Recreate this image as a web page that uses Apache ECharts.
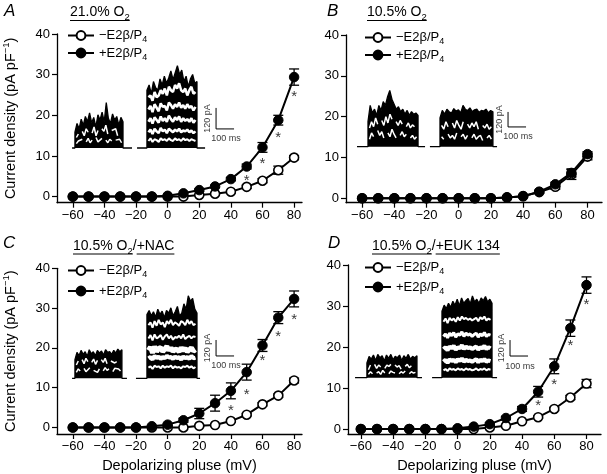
<!DOCTYPE html>
<html><head><meta charset="utf-8">
<script src="https://cdn.jsdelivr.net/npm/echarts@6/dist/echarts.min.js"></script>
<style>html,body{margin:0;padding:0;background:#fff}#c{width:607px;height:474px}</style>
</head><body><div id="c"></div>
<script>
// ---------------- data ----------------
const voltages = [-60,-50,-40,-30,-20,-10,0,10,20,30,40,50,60,70,80];
const xTicks = [-60,-40,-20,0,20,40,60,80];
const yTicks = [0,10,20,30,40];
const seriesNames = ['−E2β/P4','+E2β/P4'];

const A_minus    = [0,0,0,0,0,0,0,0,0.4,0.7,1.2,2.4,3.9,6.5,9.6];
const A_minusErr = [0,0,0,0,0,0,0,0,0,0.2,0.3,0.4,0.5,1.0,0.5];
const A_plus     = [0,0,0,0,0,0,0.2,0.8,1.6,2.5,4.3,7.4,12.1,18.8,29.4];
const A_plusErr  = [0,0,0,0,0,0,0,0,0.3,0.3,0.4,0.6,1.2,1.2,2.0];
const A_stars    = [[50,4.7],[60,8.9],[70,15.3],[80,25.2]];

const B_minus    = [0,0,0,0,0,0,0,0,0,0.2,0.5,1.5,2.8,5.8,10.2];
const B_minusErr = [0,0,0,0,0,0,0,0,0,0,0.2,0.3,0.6,1.2,0.8];
const B_plus     = [0,0,0,0,0,0,0,0,0,0.2,0.5,1.6,3.4,6.2,10.8];
const B_plusErr  = [0,0,0,0,0,0,0,0,0,0,0.2,0.3,0.5,1.0,0.6];
const B_stars    = [];

const C_minus    = [0,0,0,0,0,0,0,0,0.4,0.6,1.6,3.2,5.8,8.0,11.8];
const C_minusErr = [0,0,0,0,0,0,0,0,0.2,0.2,0.3,0.3,0.4,0.4,0.6];
const C_plus     = [0,0,0,0,0,0.3,0.7,1.8,3.5,6.1,9.2,13.9,20.6,27.6,32.3];
const C_plusErr  = [0,0,0,0,0,0,0.3,0.5,1.3,2.0,2.0,2.0,1.5,1.5,2.0];
const C_stars    = [[40,4.9],[50,9.0],[60,17.6],[70,23.6],[80,27.7]];

const D_minus    = [0,0,0,0,0,0,0,0,0.4,0.8,1.9,2.9,4.9,7.7,11.1];
const D_minusErr = [0,0,0,0,0,0,0,0,0,0.2,0.3,0.3,0.4,0.5,1.0];
const D_plus     = [0,0,0,0,0,0,0.2,0.6,1.2,2.7,4.9,9.1,15.3,24.6,35.1];
const D_plusErr  = [0,0,0,0,0,0,0,0,0.3,0.4,0.6,1.3,1.8,2.0,2.0];
const D_stars    = [[50,6.4],[60,11.5],[70,20.9],[80,31.0]];

// inset current traces (pA); first array = outer envelope, others = white gaps between traces
// time marks (ms): [baseline start, pulse on, pulse off, baseline end]
const A_leftTime  = [67, 83, 350, 400];
const A_leftTraces = [
  [90,140,110,165,130,180,150,200,145,175,120,190,160,205,150,260,170,140,195,160,180,130,175,150],
  [60,80,null,95,70,110,90,null,85,120,70,100,null,110,95,130,80,null,100,90,110,70,null,85],
  [25,40,30,50,null,35,55,30,45,null,60,35,40,55,null,45,30,50,40,null,45,35,50,30]];
const A_rightTime = [428, 483, 761, 806];
const A_rightTraces = [
  [330,360,310,380,345,330,395,360,410,370,400,440,390,430,470,420,445,380,410,350,395,420,370,380],
  [290,300,270,320,290,300,330,310,340,300,350,330,320,360,340,370,330,320,340,300,330,350,310,320],
  [220,240,205,250,230,210,255,235,240,215,260,245,225,250,235,260,230,245,225,250,230,240,215,235],
  [150,170,140,175,160,145,180,155,170,150,185,165,150,175,160,180,150,170,155,165,150,170,145,160],
  [90,105,80,110,95,85,115,95,105,85,110,100,90,105,95,110,90,100,95,105,90,100,85,95],
  [40,55,35,50,45,35,55,45,50,40,55,45,40,55,45,50,40,55,45,50,40,50,45,40]];

const B_leftTime  = [39, 100, 378, 417];
const B_leftTraces = [
  [200,330,270,300,250,330,290,360,330,400,450,380,340,300,320,280,300,260,290,250,280,260,270,250],
  [150,200,160,230,180,null,210,170,240,190,260,220,null,200,170,210,180,null,160,190,150,175,160,null],
  [60,110,80,null,130,90,120,70,null,110,80,140,100,70,null,90,120,80,100,null,70,90,60,80]];
const B_rightTime = [444, 500, 794, 817];
const B_rightTraces = [
  [230,290,260,300,280,270,305,285,295,270,330,300,290,310,280,295,300,275,290,285,300,270,290,280],
  [170,140,200,160,null,190,150,210,170,140,200,null,180,150,190,160,200,140,null,170,150,180,140,160],
  [80,60,null,100,70,90,60,110,null,80,100,60,90,null,70,100,60,80,90,50,null,70,90,60]];

const C_leftTime  = [67, 83, 344, 372];
const C_leftTraces = [
  [140,195,170,210,180,200,165,215,185,200,170,210,190,205,175,215,195,200,180,210,190,220,200,215],
  [100,130,null,140,110,150,125,null,120,145,105,135,null,140,120,150,110,null,130,140,115,125,null,130],
  [45,70,55,null,75,50,65,80,null,60,75,45,70,null,55,80,60,70,null,50,75,60,70,55]];
const C_rightTime = [422, 483, 761, 778];
const C_rightTraces = [
  [480,510,470,500,460,520,480,505,455,510,490,530,470,500,540,470,490,560,520,620,580,600,520,490],
  [400,420,380,430,395,440,405,420,385,430,410,440,400,420,410,395,430,420,400,440,410,430,400,410],
  [300,325,285,330,300,310,325,290,315,330,300,320,290,310,305,320,300,330,295,310,320,300,315,310],
  [210,235,190,240,200,225,230,200,220,240,210,230,200,220,215,200,230,210,225,200,215,230,205,215],
  [150,160,140,170,150,165,145,160,150,170,155,160,145,165,150,160,140,165,150,160,145,170,150,155],
  [80,90,70,95,85,90,75,95,80,90,85,95,75,90,80,85,75,90,85,95,80,90,75,85]];

const D_leftTime  = [28, 94, 372, 400];
const D_leftTraces = [
  [110,160,140,170,130,175,150,165,125,170,145,175,135,160,150,170,130,165,145,175,140,160,150,165],
  [60,95,null,100,70,95,80,null,70,95,85,100,null,95,80,90,65,null,85,100,75,90,null,85],
  [25,45,30,null,35,45,25,55,35,null,30,50,40,35,null,30,45,35,50,null,30,45,35,40]];
const D_rightTime = [456, 511, 789, 817];
const D_rightTraces = [
  [500,545,520,560,530,575,545,590,540,600,560,580,595,555,615,570,590,560,600,580,610,570,590,560],
  [420,445,410,450,430,445,420,455,430,460,440,450,435,445,430,440,450,425,455,440,460,430,445,435],
  [310,330,300,335,315,340,305,330,320,345,310,335,320,330,310,325,335,305,330,315,340,310,325,320],
  [215,230,205,235,220,240,210,230,220,245,215,235,220,230,215,225,235,210,230,220,240,215,230,220],
  [120,135,110,140,125,135,115,140,125,145,120,135,125,130,120,130,140,115,135,125,140,120,130,125],
  [55,65,50,70,60,65,55,70,60,65,55,70,60,65,55,60,70,55,65,60,70,55,65,60]];

// scale bars: corner [x (ms), y (pA)]
const A_scaleBar = [867, 109];
const B_scaleBar = [878, 158];
const C_scaleBar = [867, 168];
const D_scaleBar = [889, 163];
const scaleBarSize = [100, 120]; // ms, pA

// ---------------- layout ----------------
const FF = 'Liberation Sans, Arial, Helvetica, sans-serif';
const panels = [
  {minus:A_minus, minusErr:A_minusErr, plus:A_plus, plusErr:A_plusErr, stars:A_stars,
   grid:{left:52, top:34, width:250, height:168.7}, xmin:-70, xmax:85, ymin:-1.5,
   yName:true, xName:false, legend:{left:62, top:24, gap:2},
   inset:{left:60, baseY:148, sy:0.175, lt:A_leftTime, ltr:A_leftTraces, rt:A_rightTime, rtr:A_rightTraces,
          lgw:[1.5,1.5], rgw:[2.5,2.5,2.5,2.5,2], sb:A_scaleBar}},
  {minus:B_minus, minusErr:B_minusErr, plus:B_plus, plusErr:B_plusErr, stars:B_stars,
   grid:{left:346, top:35, width:256, height:167.7}, xmin:-70, xmax:89, ymin:-1.1,
   yName:false, xName:false, legend:{left:359, top:26, gap:2},
   inset:{left:350, baseY:146.7, sy:0.125, lt:B_leftTime, ltr:B_leftTraces, rt:B_rightTime, rtr:B_rightTraces,
          lgw:[1.5,1.5], rgw:[1.5,1.5], sb:B_scaleBar}},
  {minus:C_minus, minusErr:C_minusErr, plus:C_plus, plusErr:C_plusErr, stars:C_stars,
   grid:{left:52, top:268.3, width:250, height:168.4}, xmin:-70, xmax:85, ymin:-1.65,
   yName:true, xName:true, legend:{left:62, top:259, gap:5},
   inset:{left:60, baseY:378.3, sy:0.133, lt:C_leftTime, ltr:C_leftTraces, rt:C_rightTime, rtr:C_rightTraces,
          lgw:[1.5,1.5], rgw:[2,2,5,4,2], sb:C_scaleBar}},
  {minus:D_minus, minusErr:D_minusErr, plus:D_plus, plusErr:D_plusErr, stars:D_stars,
   grid:{left:348, top:265, width:253, height:170}, xmin:-68, xmax:89, ymin:-1.2,
   yName:false, xName:true, legend:{left:359, top:256, gap:4},
   inset:{left:350, baseY:377.7, sy:0.133, lt:D_leftTime, ltr:D_leftTraces, rt:D_rightTime, rtr:D_rightTraces,
          lgw:[1.5,1.5], rgw:[2,3,4,4,2], sb:D_scaleBar}}
];

const grids=[], xAxes=[], yAxes=[], series=[], legends=[];
const minusFmt = v => String(v).replace('-', '−');
const richSub = {
  a:{fontSize:13, fontFamily:FF, color:'#000', lineHeight:18},
  s:{fontSize:9, fontFamily:FF, color:'#000', verticalAlign:'bottom', lineHeight:18}
};

panels.forEach((p, pi) => {
  const gi = grids.length;
  grids.push(Object.assign({containLabel:false}, p.grid));
  xAxes.push({type:'value', gridIndex:gi, min:p.xmin, max:p.xmax,
    axisLine:{show:true, onZero:false, lineStyle:{color:'#000', width:1.3}},
    axisTick:{show:true, length:5, lineStyle:{color:'#000', width:1.2}, customValues:xTicks},
    axisLabel:{color:'#000', fontSize:13, fontFamily:FF, margin:6, customValues:xTicks, formatter:minusFmt},
    splitLine:{show:false},
    name: p.xName ? 'Depolarizing pluse (mV)' : '', nameLocation:'middle', nameGap:24,
    nameTextStyle:{color:'#000', fontSize:14.5, fontFamily:FF}});
  yAxes.push({type:'value', gridIndex:gi, min:p.ymin, max:40,
    axisLine:{show:true, onZero:false, lineStyle:{color:'#000', width:1.3}},
    axisTick:{show:true, length:5, lineStyle:{color:'#000', width:1.2}, customValues:yTicks},
    axisLabel:{color:'#000', fontSize:13, fontFamily:FF, margin:7, customValues:yTicks},
    splitLine:{show:false},
    name: p.yName ? '{a|Current density (pA pF}{sup|−1}{a|)}' : '', nameLocation:'middle', nameGap:36,
    nameRotate:90,
    nameTextStyle:{color:'#000', fontFamily:FF,
      rich:{a:{fontSize:14.5, fontFamily:FF, color:'#000', lineHeight:20},
            sup:{fontSize:9.5, fontFamily:FF, color:'#000', verticalAlign:'top', lineHeight:20}}}});

  const errData = (vals, errs) => voltages.map((v,i)=>[v, vals[i], errs[i]]).filter(d=>d[2]>0);
  const errRender = (params, api) => {
    const x = api.value(0), y = api.value(1), e = api.value(2);
    const t = api.coord([x, y+e]), b = api.coord([x, y-e]);
    const hw = 5, st = {stroke:'#000', lineWidth:1.3};
    return {type:'group', children:[
      {type:'line', shape:{x1:t[0], y1:t[1], x2:b[0], y2:b[1]}, style:st},
      {type:'line', shape:{x1:t[0]-hw, y1:t[1], x2:t[0]+hw, y2:t[1]}, style:st},
      {type:'line', shape:{x1:b[0]-hw, y1:b[1], x2:b[0]+hw, y2:b[1]}, style:st}]};
  };
  series.push({type:'custom', xAxisIndex:gi, yAxisIndex:gi, renderItem:errRender,
    data:errData(p.minus, p.minusErr), z:3, silent:true});
  series.push({type:'custom', xAxisIndex:gi, yAxisIndex:gi, renderItem:errRender,
    data:errData(p.plus, p.plusErr), z:3, silent:true});

  series.push({type:'line', name:seriesNames[0], xAxisIndex:gi, yAxisIndex:gi,
    data:voltages.map((v,i)=>[v, p.minus[i]]), symbol:'circle', symbolSize:9,
    lineStyle:{color:'#000', width:2}, itemStyle:{color:'#fff', borderColor:'#000', borderWidth:1.6},
    z:4, animation:false});
  series.push({type:'line', name:seriesNames[1], xAxisIndex:gi, yAxisIndex:gi,
    data:voltages.map((v,i)=>[v, p.plus[i]]), symbol:'circle', symbolSize:9.5,
    lineStyle:{color:'#000', width:2}, itemStyle:{color:'#000', borderColor:'#000', borderWidth:1},
    z:5, animation:false});
  if (p.stars.length) {
    series.push({type:'scatter', xAxisIndex:gi, yAxisIndex:gi, data:p.stars, symbolSize:1,
      itemStyle:{color:'rgba(0,0,0,0)'},
      label:{show:true, formatter:'*', position:'inside', offset:[0,3], color:'#000', fontSize:15, fontFamily:FF},
      z:6, silent:true});
  }

  legends.push({data:seriesNames, orient:'vertical', left:p.legend.left, top:p.legend.top,
    itemWidth:26, itemHeight:11, itemGap:p.legend.gap, selectedMode:false,
    formatter: n => '{a|' + n.slice(0, -1) + '}{s|' + n.slice(-1) + '}',
    textStyle:{color:'#000', fontSize:13, fontFamily:FF, rich:richSub}});

  // inset grid (current traces)
  const ins = p.inset;
  const ig = grids.length;
  grids.push({left:ins.left, width:180, top:ins.baseY - 700*ins.sy, height:750*ins.sy, containLabel:false});
  xAxes.push({type:'value', gridIndex:ig, min:0, max:1000, show:false});
  yAxes.push({type:'value', gridIndex:ig, min:-50, max:700, show:false});
  const cluster = (time, traces, gw) => {
    const [b0, p0, p1, b1] = time;
    const n = traces[0].length;
    const ts = i => p0 + (p1 - p0) * i / (n - 1);
    const env = [[b0,0],[p0,0]].concat(traces[0].map((v,i)=>[ts(i), v])).concat([[p1,0],[b1,0]]);
    series.push({type:'line', xAxisIndex:ig, yAxisIndex:ig, data:env, symbol:'none',
      lineStyle:{color:'#000', width:1.3}, areaStyle:{color:'#000', opacity:1}, z:2, silent:true, animation:false});
    const d = (p1 - p0) * 0.03;
    traces.slice(1).forEach((tr, k) => {
      const tg = i => p0 + d + (p1 - p0 - 2*d) * i / (n - 1);
      series.push({type:'line', xAxisIndex:ig, yAxisIndex:ig, data:tr.map((v,i)=>[tg(i), v]), symbol:'none',
        connectNulls:false, lineStyle:{color:'#fff', width:gw[k] || 1.5}, z:2, silent:true, animation:false});
    });
  };
  cluster(ins.lt, ins.ltr, ins.lgw);
  cluster(ins.rt, ins.rtr, ins.rgw);
  const [sx, sy0] = ins.sb;
  series.push({type:'line', xAxisIndex:ig, yAxisIndex:ig, symbol:'none',
    data:[[sx, sy0 + scaleBarSize[1]], [sx, sy0], [sx + scaleBarSize[0], sy0]],
    lineStyle:{color:'#000', width:1}, z:2, silent:true, animation:false});
  series.push({type:'scatter', xAxisIndex:ig, yAxisIndex:ig, symbolSize:1, itemStyle:{color:'rgba(0,0,0,0)'},
    data:[{value:[sx - 25, sy0 + scaleBarSize[1]/2],
           label:{show:true, formatter:'120 pA', position:'inside', rotate:90, align:'center', verticalAlign:'bottom'}},
          {value:[sx + scaleBarSize[0]*0.55, sy0],
           label:{show:true, formatter:'100 ms', position:'bottom', distance:5}}],
    label:{color:'#000', fontSize:9, fontFamily:FF}, z:2, silent:true});
});

// ---------------- titles / panel letters ----------------
const mctx = document.createElement('canvas').getContext('2d');
const tw = (t, fs) => { mctx.font = fs + 'px ' + FF; return mctx.measureText(t).width; };
const graphics = [];
const letters = [['A', 4, 11], ['B', 327, 11], ['C', 3, 243], ['D', 328, 243.5]];
letters.forEach(([t, x, y]) => graphics.push({type:'text', x, y,
  style:{text:t, fill:'#000', font:'italic 17px ' + FF, verticalAlign:'middle'}}));
const titles = [
  {x:70, y:12.5, parts:['21.0% O']},
  {x:367, y:12.5, parts:['10.5% O']},
  {x:73, y:246, parts:['10.5% O', '+NAC']},
  {x:372, y:246, parts:['10.5% O', '+EUK 134']}
];
titles.forEach(t => {
  let text = '{a|' + t.parts[0] + '}{s|2}';
  if (t.parts[1]) text += '{a|/' + t.parts[1] + '}';
  graphics.push({type:'text', x:t.x, y:t.y, style:{text, verticalAlign:'middle',
    rich:{a:{fontSize:14, fontFamily:FF, fill:'#000', lineHeight:20}, s:{fontSize:9.5, fontFamily:FF, fill:'#000', verticalAlign:'bottom', lineHeight:20}}}});
  const w1 = tw(t.parts[0], 14) + tw('2', 9.5);
  const uy = t.y + 8;
  graphics.push({type:'line', shape:{x1:t.x, y1:uy, x2:t.x + w1, y2:uy}, style:{stroke:'#000', lineWidth:1}});
  if (t.parts[1]) {
    const x2 = t.x + w1 + tw('/', 14);
    graphics.push({type:'line', shape:{x1:x2, y1:uy, x2:x2 + tw(t.parts[1], 14), y2:uy}, style:{stroke:'#000', lineWidth:1}});
  }
});

const chart = echarts.init(document.getElementById('c'), null, {renderer:'canvas'});
chart.setOption({
  animation:false, backgroundColor:'#fff',
  grid:grids, xAxis:xAxes, yAxis:yAxes, legend:legends, series, graphic:graphics
});
</script></body></html>
